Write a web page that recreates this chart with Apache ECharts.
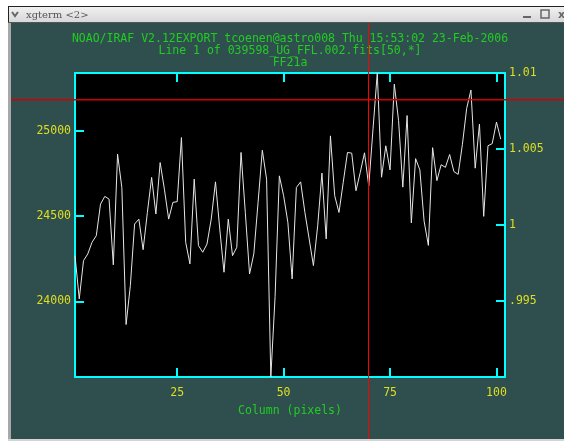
<!DOCTYPE html>
<html><head><meta charset="utf-8">
<script src="https://cdn.jsdelivr.net/npm/echarts@6/dist/echarts.min.js"></script>
<style>html,body{margin:0;padding:0;background:#fff;}#c{width:564px;height:441px;}</style>
</head><body><div id="c"></div>
<script>
// ---- data ----
const firstColumn = 1;
const values = [
  24268, 24015, 24239, 24278, 24346, 24385, 24570, 24615, 24599, 24214,
  24862, 24667, 23865, 24093, 24453, 24482, 24303, 24521, 24726, 24512,
  24813, 24657, 24482, 24580, 24584, 24959, 24346, 24220, 24716, 24327,
  24288, 24336, 24482, 24700, 24424, 24171, 24482, 24268, 24317, 24872,
  24521, 24161, 24278, 24580, 24885, 24716, 23558, 24030, 24735, 24619,
  24463, 24132, 24667, 24700, 24521, 24366, 24210, 24443, 24751, 24366,
  24969, 24619, 24521, 24696, 24872, 24868, 24648, 24755, 24870, 24675,
  25010, 25337, 24727, 24911, 24770, 25272, 25058, 24669, 25088, 24460,
  24836, 24770, 24470, 24328, 24900, 24707, 24800, 24785, 24860, 24760,
  24744, 24920, 25130, 25237, 24780, 25038, 24498, 24911, 24924, 25050,
  24950
];
const xTicks = [25, 50, 75, 100];
const yTicksLeft = [24000, 24500, 25000];
const yTicksRight = [0.995, 1, 1.005, 1.01];
const rightMin = 0.99, rightMax = 1.01;
const titleLines = [
  'NOAO/IRAF V2.12EXPORT tcoenen@astro008 Thu 15:53:02 23-Feb-2006',
  'Line 1 of 039598_UG_FFL.002.fits[50,*]',
  'FF21a'
];
const xName = 'Column (pixels)';
const windowTitle = 'xgterm <2>';

// ---- build ----
const seriesData = values.map((v, i) => [firstColumn + i, v]);
const xMin = firstColumn, xMax = firstColumn + values.length;
const yMin = Math.min(...values), yMax = Math.max(...values);

const CYAN = '#00ffff', YEL = '#dede22', GRN = '#22cc22', TEAL = '#2f4f4f';
const FONT = 'DejaVu Sans Mono';
const FS = 11.5;

function rightFmt(v) {
  let s = String(+v.toFixed(4));
  if (s.startsWith('0.')) s = s.slice(1);
  return s;
}
function plainFmt(v) { return String(Math.round(v)); }

const axisLine = { show: true, lineStyle: { color: CYAN, width: 2 } };
const tick = (vals) => ({ show: true, inside: true, length: 9, customValues: vals, lineStyle: { color: CYAN, width: 2 } });

const chart = echarts.init(document.getElementById('c'), null, { renderer: 'canvas' });
chart.setOption({
  animation: false,
  backgroundColor: TEAL,
  grid: { left: 75, top: 73, right: 59, bottom: 64, show: false },
  xAxis: [
    { type: 'value', min: xMin, max: xMax, position: 'bottom',
      axisLine, axisTick: tick(xTicks), splitLine: { show: false },
      axisLabel: { customValues: xTicks, color: YEL, fontFamily: FONT, fontSize: FS, margin: 10, formatter: plainFmt },
      name: xName, nameLocation: 'middle', nameGap: 28,
      nameTextStyle: { color: GRN, fontFamily: FONT, fontSize: FS } },
    { type: 'value', min: xMin, max: xMax, position: 'top',
      axisLine, axisTick: tick(xTicks), splitLine: { show: false },
      axisLabel: { show: false } }
  ],
  yAxis: [
    { type: 'value', min: yMin, max: yMax, position: 'left',
      axisLine, axisTick: tick(yTicksLeft), splitLine: { show: false },
      axisLabel: { customValues: yTicksLeft, color: YEL, fontFamily: FONT, fontSize: FS, margin: 4, formatter: plainFmt } },
    { type: 'value', min: rightMin, max: rightMax, position: 'right',
      axisLine, axisTick: tick(yTicksRight), splitLine: { show: false },
      axisLabel: { customValues: yTicksRight, color: YEL, fontFamily: FONT, fontSize: FS, margin: 4,
        formatter: rightFmt } }
  ],
  series: [{
    type: 'line', xAxisIndex: 0, yAxisIndex: 0, data: seriesData,
    showSymbol: false, symbol: 'none', clip: true,
    lineStyle: { color: '#e6e6e6', width: 1 }, z: 1
  }],
  graphic: [
    // plot background (black)
    { type: 'rect', z: -10, shape: { x: 75, y: 73, width: 430, height: 304 }, style: { fill: '#000' } },
    // window chrome
    { type: 'rect', z: 50, shape: { x: 0, y: 0, width: 8, height: 441 }, style: { fill: '#fff' } },
    { type: 'rect', z: 50, shape: { x: 0, y: 0, width: 564, height: 6 }, style: { fill: '#fff' } },
    { type: 'rect', z: 50, shape: { x: 8, y: 6, width: 556, height: 17 },
      style: { fill: new echarts.graphic.LinearGradient(0, 0, 0, 1, [{ offset: 0, color: '#f2f2f2' }, { offset: 1, color: '#d6d6d6' }]) } },
    { type: 'rect', z: 51, shape: { x: 8, y: 6, width: 556, height: 1 }, style: { fill: '#222' } },
    { type: 'rect', z: 51, shape: { x: 8, y: 6, width: 1, height: 17 }, style: { fill: '#222' } },
    { type: 'rect', z: 51, shape: { x: 8, y: 22, width: 556, height: 1 }, style: { fill: '#555' } },
    { type: 'rect', z: 50, shape: { x: 8, y: 23, width: 3, height: 418 }, style: { fill: '#a8a8a8' } },
    { type: 'rect', z: 50, shape: { x: 8, y: 439, width: 556, height: 2 }, style: { fill: '#d4d4d4' } },
    { type: 'polyline', z: 52, shape: { points: [[12, 12], [15, 16], [18, 12]] }, style: { stroke: '#666', lineWidth: 2, fill: null } },
    { type: 'text', z: 52, x: 26, y: 15, style: { text: windowTitle, font: '10px "DejaVu Serif"', fill: '#555', verticalAlign: 'middle' } },
    { type: 'rect', z: 52, shape: { x: 523, y: 16, width: 8, height: 2 }, style: { fill: '#666' } },
    { type: 'rect', z: 52, shape: { x: 541, y: 10, width: 8, height: 8 }, style: { fill: null, stroke: '#666', lineWidth: 1.5 } },
    { type: 'text', z: 52, x: 558, y: 15, style: { text: 'x', font: 'bold 11px "DejaVu Sans"', fill: '#666', verticalAlign: 'middle' } },
    // titles
    { type: 'text', z: 20, x: 290, y: 39, style: { text: titleLines[0], font: FS + 'px "' + FONT + '"', fill: GRN, align: 'center', verticalAlign: 'middle' } },
    { type: 'text', z: 20, x: 290, y: 51.5, style: { text: titleLines[1], font: FS + 'px "' + FONT + '"', fill: GRN, align: 'center', verticalAlign: 'middle' } },
    { type: 'text', z: 20, x: 290, y: 63, style: { text: titleLines[2], font: FS + 'px "' + FONT + '"', fill: GRN, align: 'center', verticalAlign: 'middle' } },
    // cursor crosshair
    { type: 'rect', z: 100, shape: { x: 11, y: 99, width: 553, height: 1.4 }, style: { fill: '#d40000' } },
    { type: 'rect', z: 100, shape: { x: 368, y: 23, width: 1, height: 416 }, style: { fill: '#ff0000' } }
  ]
});
</script>
</body></html>
